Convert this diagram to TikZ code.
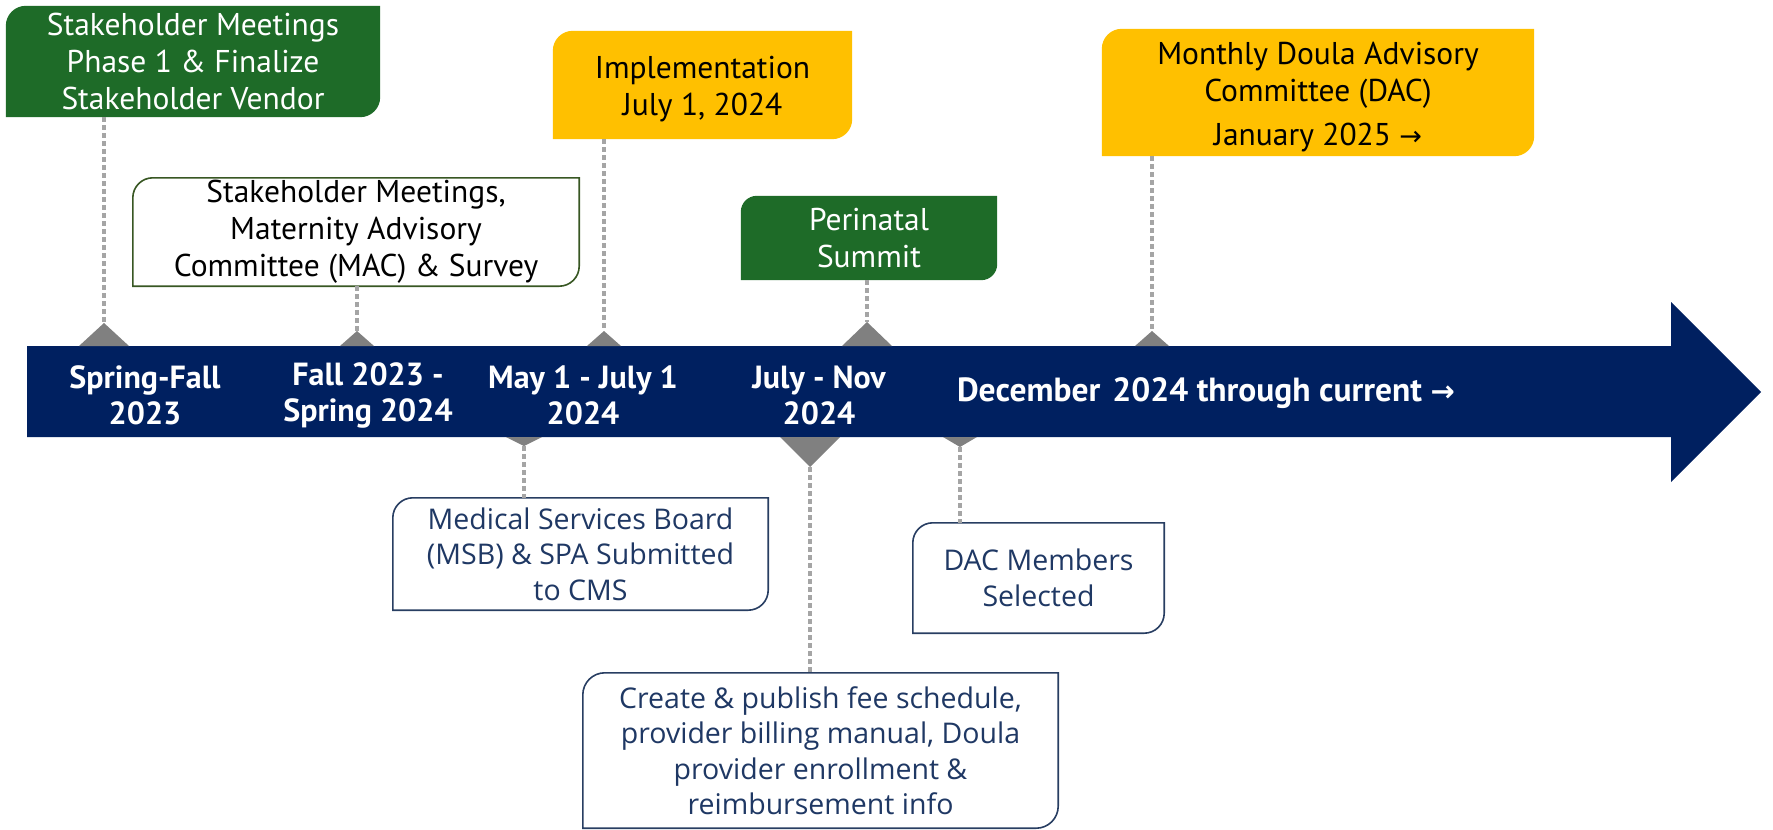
\documentclass[tikz,border=0pt]{standalone}
\usepackage{fontspec}
\setmainfont{PT Sans}
\newfontfamily\boxfont{Open Sans}
\newfontfamily\arrowfont{DejaVu Sans}
\usetikzlibrary{backgrounds}
\definecolor{navy}{RGB}{0,32,96}
\definecolor{dgreen}{RGB}{30,107,40}
\definecolor{gold}{RGB}{255,192,0}
\definecolor{markgray}{RGB}{128,128,128}
\definecolor{dotgray}{RGB}{165,165,165}
\definecolor{mgreen}{RGB}{56,87,35}
\definecolor{lowtext}{RGB}{31,56,100}
\definecolor{lowborder}{RGB}{40,62,98}
\newcommand\diagshape[3]{\path[#2] (#1.north) -- (#1.north east) [rounded corners=#3] -- (#1.south east) [sharp corners] -- (#1.south west) [rounded corners=#3] -- (#1.north west) [sharp corners] -- (#1.north) -- cycle;}
\tikzset{
  boxnode/.style={inner sep=0pt, align=center},
  topfont/.style={font=\fontsize{31.5}{37}\selectfont},
  lowfont/.style={font=\boxfont\fontsize{28.5}{35.5}\selectfont, text=lowtext},
  barlabel/.style={text=white, align=center, font=\fontsize{32}{36}\selectfont\bfseries},
  dotline/.style={draw=dotgray, line width=4.5pt, dash pattern=on 5pt off 3pt},
  marker/.style={fill=markgray}
}
\begin{document}
\begin{tikzpicture}[x=1pt,y=-1pt]
\useasboundingbox (0,0) rectangle (1773,830);
% timeline bar
\fill[navy] (27,346) -- (1671,346) -- (1671,302) -- (1761,392) -- (1671,482) -- (1671,437) -- (27,437) -- cycle;
% bar labels
\node[barlabel] (l1) at (145,395) {Spring-Fall\\2023};
\node[barlabel] (l2) at (368,395) {Fall 2023 -\\Spring 2024};
\node[barlabel] (l3) at (583,395) {May 1 - July 1\\2024};
\node[barlabel] (l4) at (819,395) {July - Nov\\2024};
\node[barlabel, font=\fontsize{33.5}{36}\selectfont\bfseries] (l5) at (1206,393) {December\hspace{0.36em}2024 through current {\arrowfont\bfseries\fontsize{29}{36}\selectfont →}};
% marker apexes
\coordinate (t1) at (104,323);
\coordinate (t2) at (357,331);
\coordinate (t3) at (604,331);
\coordinate (t4) at (867,322);
\coordinate (t5) at (1152,331);
\coordinate (d1) at (524,446);
\coordinate (d2) at (810,467);
\coordinate (d3) at (960,447);
\fill[marker] (t1) -- (79,346) -- (129,346) -- cycle;
\fill[marker] (t2) -- (340,346) -- (374,346) -- cycle;
\fill[marker] (t3) -- (587,346) -- (621,346) -- cycle;
\fill[marker] (t4) -- (842,346) -- (892,346) -- cycle;
\fill[marker] (t5) -- (1135,346) -- (1169,346) -- cycle;
\fill[marker] (d1) -- (506,437) -- (542,437) -- cycle;
\fill[marker] (d2) -- (780,437) -- (840,437) -- cycle;
\fill[marker] (d3) -- (943,437) -- (977,437) -- cycle;
% boxes
\node[boxnode, topfont, text=white, minimum width=374pt, minimum height=111pt] (g1) at (193,61.5)
  {Stakeholder Meetings\\Phase 1 \& Finalize\\Stakeholder Vendor};
\node[boxnode, topfont, text=black, minimum width=446pt, minimum height=108pt] (w2) at (356,232)
  {Stakeholder Meetings,\\Maternity Advisory\\Committee (MAC) \& Survey};
\node[boxnode, minimum width=299pt, minimum height=108pt,
  label={[topfont, align=center, text=black, yshift=-4.5pt]center:{Implementation\\July 1, 2024}}] (y3) at (702.5,85) {};
\node[boxnode, minimum width=432pt, minimum height=127pt,
  label={[topfont, align=center, text=black, yshift=-4.5pt]center:{Monthly Doula Advisory\\Committee (DAC)\\[7pt]January 2025 {\arrowfont\fontsize{27}{37}\selectfont →}}}] (y4) at (1318,92.5) {};
\node[boxnode, topfont, text=white, minimum width=256pt, minimum height=84pt] (g5) at (869,238)
  {Perinatal\\Summit};
\node[boxnode, lowfont, minimum width=375pt, minimum height=112pt] (b6) at (580.5,554)
  {Medical Services Board\\(MSB) \& SPA Submitted\\to CMS};
\node[boxnode, lowfont, minimum width=475pt, minimum height=155pt] (b7) at (820.5,750.5)
  {Create \& publish fee schedule,\\provider billing manual, Doula\\provider enrollment \&\\reimbursement info};
\node[boxnode, lowfont, minimum width=251pt, minimum height=110pt] (b8) at (1038.5,578)
  {DAC Members\\Selected};
\begin{scope}[on background layer]
\diagshape{g1}{fill=dgreen}{20pt}
\diagshape{w2}{fill=white, draw=mgreen, line width=1.6pt}{20pt}
\diagshape{y3}{fill=gold}{20pt}
\diagshape{y4}{fill=gold}{20pt}
\diagshape{g5}{fill=dgreen}{16pt}
\diagshape{b6}{fill=white, draw=lowborder, line width=1.6pt}{20pt}
\diagshape{b7}{fill=white, draw=lowborder, line width=1.6pt}{22pt}
\diagshape{b8}{fill=white, draw=lowborder, line width=1.6pt}{20pt}
\end{scope}
% connectors
\draw[dotline] (g1.south -| t1) -- (t1);
\draw[dotline] (w2.south -| t2) -- (t2);
\draw[dotline] (y3.south -| t3) -- (t3);
\draw[dotline] (g5.south -| t4) -- (t4);
\draw[dotline] (y4.south -| t5) -- (t5);
\draw[dotline] (d1) -- (b6.north -| d1);
\draw[dotline] (d2) -- (b7.north -| d2);
\draw[dotline] (d3) -- (b8.north -| d3);
\end{tikzpicture}
\end{document}
